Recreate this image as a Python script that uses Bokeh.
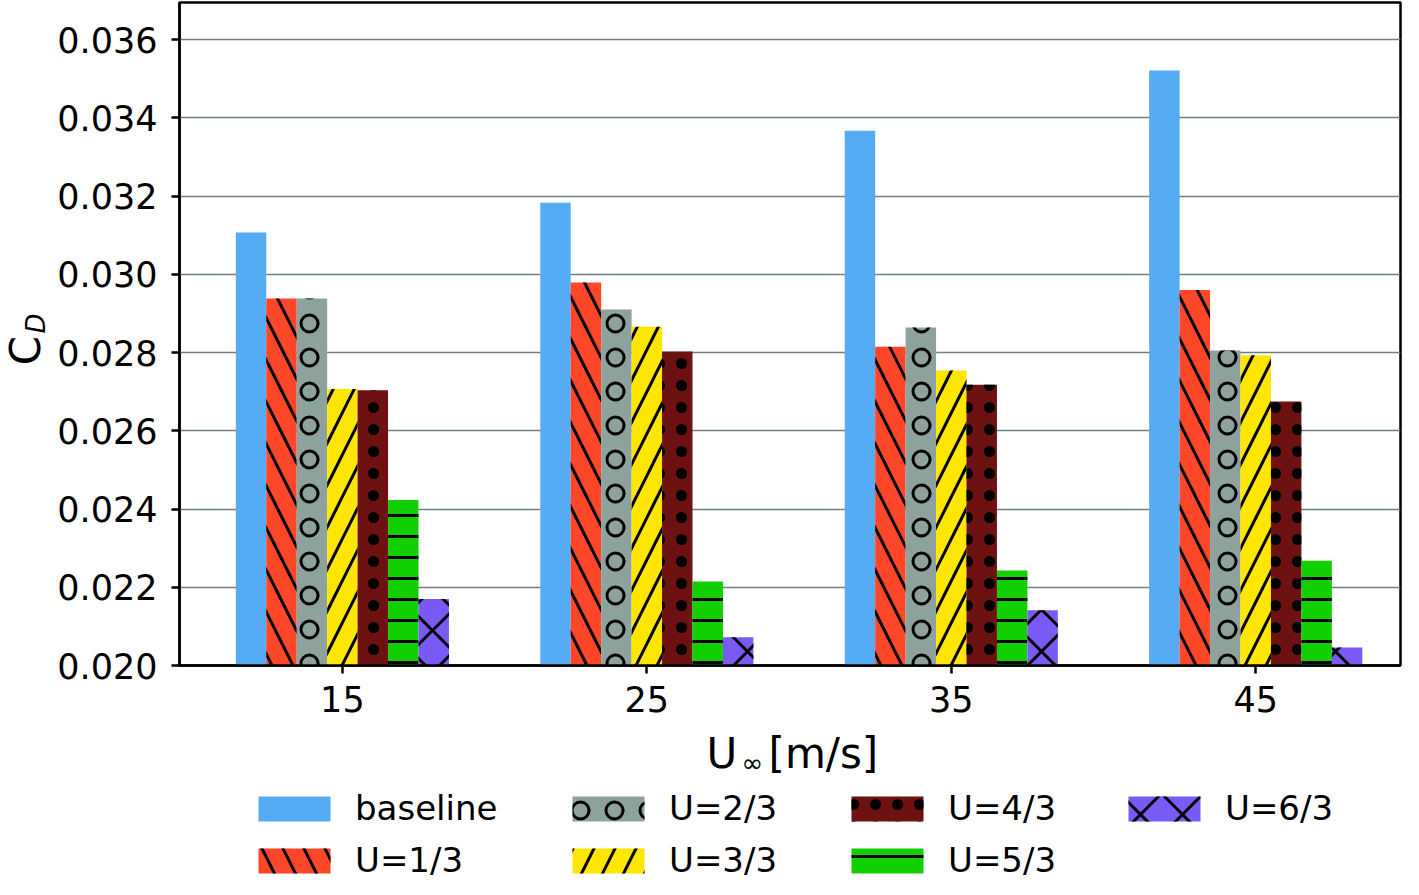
import math
from bokeh.plotting import figure
from bokeh.layouts import row, column
from bokeh.models import (Range1d, FixedTicker, PrintfTickFormatter, Legend,
                          LegendItem, ColumnDataSource)
from bokeh.transform import dodge
from bokeh.core.properties import value
from bokeh.embed import file_html
from bokeh.resources import INLINE

# ---------------- data ----------------
speeds = [15, 25, 35, 45]
series_names = ["baseline", "U=1/3", "U=2/3", "U=3/3", "U=4/3", "U=5/3", "U=6/3"]
baseline = [0.03107, 0.03183, 0.03367, 0.03521]
u_1_3 = [0.02938, 0.02979, 0.02815, 0.02960]
u_2_3 = [0.02938, 0.02910, 0.02864, 0.02805]
u_3_3 = [0.02707, 0.02866, 0.02754, 0.02793]
u_4_3 = [0.02704, 0.02803, 0.02718, 0.02675]
u_5_3 = [0.02423, 0.02215, 0.02243, 0.02268]
u_6_3 = [0.02170, 0.02072, 0.02141, 0.02046]
y_ticks = [0.020, 0.022, 0.024, 0.026, 0.028, 0.030, 0.032, 0.034, 0.036]
x_ticks = [15, 25, 35, 45]
x_label_parts = ["U", "\u221e", "[m/s]"]
y_label_parts = ["C", "D"]

series_values = [baseline, u_1_3, u_2_3, u_3_3, u_4_3, u_5_3, u_6_3]

# ---------------- styles ----------------
FONT = "DejaVu Sans"
colors = ["#55acf5", "#fd4728", "#8da29c", "#ffe600", "#6e1111", "#12d000", "#7a5af5"]
hatches = [None, "left_diagonal_line", "ring", "right_diagonal_line", "dot",
           "horizontal_line", "diagonal_cross"]
hatch_scales = [None, 42, 34, 42, 22, 21, 42]
offsets = [-3, -2, -1, 0, 1, 2, 3]


def bar_style(i):
    kw = dict(fill_color=colors[i], line_color=None)
    if hatches[i] is not None:
        kw.update(hatch_pattern=hatches[i], hatch_scale=hatch_scales[i],
                  hatch_color="black", hatch_weight=3)
    return kw


# ---------------- geometry ----------------
W, H = 1403, 879
LBL_W = 54
TOP_H = 728
BOT_H = H - TOP_H
MAIN_W = W - LBL_W
FL, FR, FT, FB = 178, 1400, 2, 665          # frame edges in page pixels
X0 = 9.65
PPX = 30.47                                  # pixels per x unit
X1 = X0 + (FR - FL) / PPX
Y0, Y1 = 0.020, 0.03695

# ---------------- main chart ----------------
p = figure(width=MAIN_W, height=TOP_H, x_range=Range1d(X0, X1), y_range=Range1d(Y0, Y1),
           output_backend="svg", toolbar_location=None,
           min_border_left=FL - LBL_W, min_border_right=W - FR,
           min_border_top=FT, min_border_bottom=TOP_H - FB)
p.background_fill_color = "white"
p.border_fill_color = "white"
p.outline_line_color = "black"
p.outline_line_width = 2.5

src = ColumnDataSource(dict(speed=speeds, **{f"s{i}": v for i, v in enumerate(series_values)}))
for i, name in enumerate(series_names):
    p.vbar(x=dodge("speed", offsets[i], range=p.x_range), top=f"s{i}", bottom=0.0,
           width=1.0, source=src, **bar_style(i))

for ax in (p.xaxis[0], p.yaxis[0]):
    ax.axis_line_color = "black"
    ax.axis_line_width = 2.5
    ax.major_tick_line_color = "black"
    ax.major_tick_line_width = 2.5
    ax.major_tick_out = 8
    ax.major_tick_in = 0
    ax.minor_tick_line_color = None
    ax.major_label_text_font = FONT
    ax.major_label_text_font_size = "35px"
    ax.major_label_text_color = "black"
p.xaxis.ticker = FixedTicker(ticks=x_ticks)
p.yaxis.ticker = FixedTicker(ticks=y_ticks)
p.yaxis.formatter = PrintfTickFormatter(format="%.3f")
p.xaxis.major_label_standoff = 12
p.yaxis.major_label_standoff = 14
p.xgrid.grid_line_color = None
p.ygrid.grid_line_color = "#6f7f80"
p.ygrid.grid_line_width = 1.5

# ---------------- y label (C_D), frame aligned with main frame ----------------
pl = figure(width=LBL_W, height=TOP_H, x_range=Range1d(0, LBL_W), y_range=p.y_range,
            output_backend="svg", toolbar_location=None, x_axis_type=None, y_axis_type=None,
            min_border=0, outline_line_color=None)
pl.grid.visible = False
ppy = (FB - FT) / (Y1 - Y0)
def ydata(py):
    return Y1 - (py - FT) / ppy
pl.text(x=[25], y=[ydata(350)], text=[y_label_parts[0]], angle=math.pi / 2,
        text_font=value(FONT), text_font_size="42px", text_align="center",
        text_baseline="middle", text_color="black")
pl.text(x=[35], y=[ydata(323)], text=[y_label_parts[1]], angle=math.pi / 2,
        text_font=value(FONT), text_font_size="26px", text_font_style="italic",
        text_align="center", text_baseline="middle", text_color="black")

# ---------------- bottom: x label + legend ----------------
pb = figure(width=W, height=BOT_H, x_range=Range1d(0, W), y_range=Range1d(BOT_H, 0),
            output_backend="svg", toolbar_location=None, x_axis_type=None, y_axis_type=None,
            min_border=0, outline_line_color=None)
pb.grid.visible = False
pb.text(x=[706], y=[24.5], text=[x_label_parts[0]], text_font=value(FONT),
        text_font_size="42px", text_align="left", text_baseline="middle", text_color="black")
pb.text(x=[741], y=[34.5], text=[x_label_parts[1]], text_font=value(FONT),
        text_font_size="26px", text_align="left", text_baseline="middle", text_color="black")
pb.text(x=[768], y=[24.5], text=[x_label_parts[2]], text_font=value(FONT),
        text_font_size="42px", text_align="left", text_baseline="middle", text_color="black")

# invisible (zero-height, off-range) bars that only carry the legend styles
dummy = ColumnDataSource(dict(x=[-100], top=[0]))
legend_renderers = [pb.vbar(x="x", top="top", bottom=0, width=1, source=dummy, **bar_style(i))
                    for i in range(len(series_names))]

cell_col = [0, 0, 1, 1, 2, 2, 3]
cell_row = [0, 1, 0, 1, 0, 1, 0]
col_x = [249, 563, 842, 1119]
row_c = [80, 132]
item_h = 40
for i, name in enumerate(series_names):
    bottom = row_c[cell_row[i]] + item_h / 2
    leg = Legend(items=[LegendItem(label=name, renderers=[legend_renderers[i]])],
                 location=(col_x[cell_col[i]], BOT_H - bottom),
                 orientation="vertical", padding=0, margin=0, spacing=0,
                 border_line_alpha=0, background_fill_alpha=0,
                 label_text_font=FONT, label_text_font_size="34px", label_text_color="black",
                 glyph_width=90, glyph_height=31, label_standoff=16, label_height=item_h)
    pb.add_layout(leg)

layout = column(row(pl, p, spacing=0), pb, spacing=0)
open("out.html", "w").write(file_html(layout, INLINE))
